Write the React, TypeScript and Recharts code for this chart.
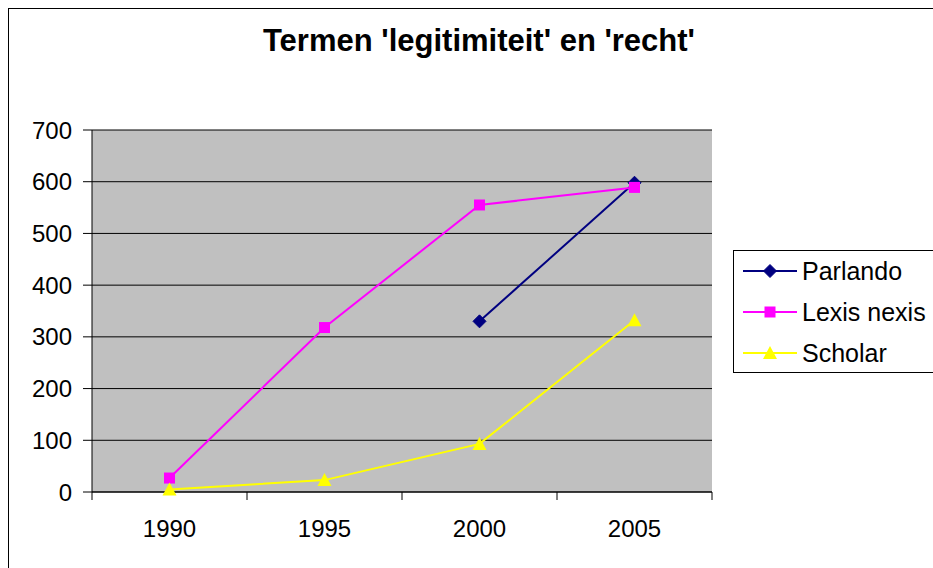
import React from 'react';
import { LineChart, Line, XAxis, YAxis, CartesianGrid, Legend } from 'recharts';

const years = ['1990', '1995', '2000', '2005'];
const parlando = [null, null, 330, 598];
const lexisNexis = [27, 318, 555, 589];
const scholar = [5, 23, 93, 332];
const yTicks = [0, 100, 200, 300, 400, 500, 600, 700];

const series = [
  { key: 'parlando', name: 'Parlando', color: '#000080', shape: 'diamond' },
  { key: 'lexis', name: 'Lexis nexis', color: '#FF00FF', shape: 'square' },
  { key: 'scholar', name: 'Scholar', color: '#FFFF00', shape: 'triangle' },
];

const data = years.map((year, i) => ({
  year,
  parlando: parlando[i],
  lexis: lexisNexis[i],
  scholar: scholar[i],
}));

const FONT = '"Liberation Sans", Arial, sans-serif';
const HALF_BAND = 77.5;

function Marker({ cx, cy, shape, color }: any) {
  if (shape === 'diamond') {
    return <polygon points={`${cx},${cy - 6.5} ${cx + 6.5},${cy} ${cx},${cy + 6.5} ${cx - 6.5},${cy}`} fill={color} stroke={color} />;
  }
  if (shape === 'square') {
    return <rect x={cx - 5.5} y={cy - 5.5} width={11} height={11} fill={color} />;
  }
  return <polygon points={`${cx},${cy - 7} ${cx + 7},${cy + 6} ${cx - 7},${cy + 6}`} fill={color} />;
}

const makeDot = (shape: string, color: string) => (props: any) => {
  const { cx, cy, index, value } = props;
  if (value == null || cx == null || cy == null) return <g key={`e-${index}`} />;
  return (
    <g key={`d-${index}`}>
      <Marker cx={cx} cy={cy} shape={shape} color={color} />
    </g>
  );
};

function YearTick(props: any) {
  const { x, y, payload, index } = props;
  const i = index ?? payload.index;
  return (
    <g>
      <line x1={x - HALF_BAND} y1={y} x2={x - HALF_BAND} y2={y + 8} stroke="#000" />
      {i === years.length - 1 && <line x1={x + HALF_BAND} y1={y} x2={x + HALF_BAND} y2={y + 8} stroke="#000" />}
      <text x={x} y={y + 45} textAnchor="middle" fontSize={24} fontFamily={FONT} fill="#000">
        {payload.value}
      </text>
    </g>
  );
}

function LegendBox() {
  return (
    <div style={{ border: '1px solid #000', background: '#fff', width: 212, height: 123, boxSizing: 'border-box', fontFamily: FONT }}>
      {series.map((s) => (
        <div key={s.key} style={{ height: 41, display: 'flex', alignItems: 'center' }}>
          <svg width={68} height={41} style={{ display: 'block' }}>
            <line x1={9} y1={20} x2={63} y2={20} stroke={s.color} strokeWidth={2} />
            <Marker cx={36} cy={20} shape={s.shape} color={s.color} />
          </svg>
          <span style={{ fontSize: 25, color: '#000', whiteSpace: 'nowrap' }}>{s.name}</span>
        </div>
      ))}
    </div>
  );
}

export default function App() {
  return (
    <div style={{ position: 'fixed', top: 8, left: 8, width: 925, height: 560, overflow: 'hidden' }}>
      <div style={{ position: 'relative', width: 940, height: 570, border: '1px solid #000', background: '#fff', fontFamily: FONT }}>
        <div style={{ position: 'absolute', top: 16, left: 0, width: '100%', textAlign: 'center', fontSize: 31, lineHeight: '32px', fontWeight: 'bold', color: '#000' }}>
          Termen 'legitimiteit' en 'recht'
        </div>
        <LineChart width={940} height={560} data={data} margin={{ top: 121, right: 237, bottom: 17, left: 0 }}>
          <CartesianGrid vertical={false} stroke="#000" fill="#C0C0C0" fillOpacity={1} />
          <XAxis
            dataKey="year"
            scale="band"
            height={60}
            tickLine={false}
            tickSize={0}
            tickMargin={0}
            axisLine={{ stroke: '#000' }}
            tick={<YearTick />}
            interval={0}
          />
          <YAxis
            width={83}
            domain={[0, 700]}
            ticks={yTicks}
            tickSize={9}
            tickMargin={11}
            axisLine={{ stroke: '#000' }}
            tickLine={{ stroke: '#000' }}
            tick={{ fontSize: 24, fill: '#000', fontFamily: FONT }}
          />
          <YAxis yAxisId="right" orientation="right" width={0} domain={[0, 700]} tick={false} tickLine={false} axisLine={{ stroke: '#808080' }} />
          {series.map((s) => (
            <Line
              key={s.key}
              dataKey={s.key}
              name={s.name}
              type="linear"
              stroke={s.color}
              strokeWidth={2}
              dot={makeDot(s.shape, s.color)}
              activeDot={false}
              isAnimationActive={false}
            />
          ))}
          <Legend layout="vertical" align="center" verticalAlign="middle" content={<LegendBox />} wrapperStyle={{ left: 724, top: 241, width: 212, height: 123 }} />
        </LineChart>
      </div>
    </div>
  );
}
